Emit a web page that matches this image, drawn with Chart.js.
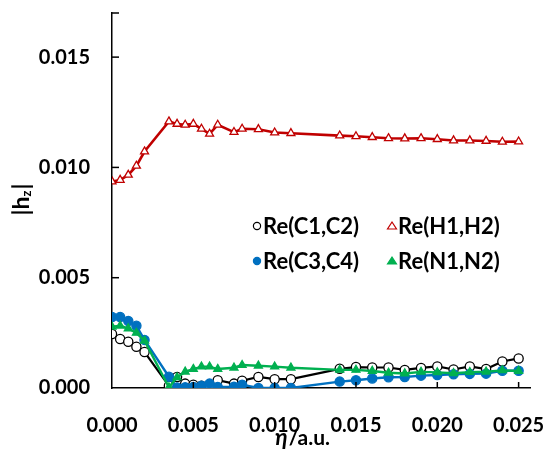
<!DOCTYPE html>
<html><head><meta charset="utf-8">
<script src="https://cdn.jsdelivr.net/npm/chart.js@4"></script>
<style>html,body{margin:0;padding:0;background:#fff}#wrap{width:547px;height:455px;position:relative}</style>
</head><body><div id="wrap"><canvas id="c" width="547" height="455"></canvas></div>
<script>
const etaValues = [0,0.0005,0.001,0.0015,0.002,0.0035,0.004,0.0045,0.005,0.0055,0.006,0.0065,0.0075,0.008,0.009,0.010,0.011,0.014,0.015,0.016,0.017,0.018,0.019,0.020,0.021,0.022,0.023,0.024,0.025];
const reC1C2 = [0.00245,0.00222,0.0021,0.00187,0.00163,0.0001,0.0005,0.0002,0.00015,0.0001,0.00005,0.00035,0.0002,0.00033,0.0005,0.0004,0.0004,0.00087,0.00095,0.00093,0.00093,0.00082,0.00091,0.00098,0.00084,0.00098,0.00086,0.0012,0.00134];
const reH1H2 = [0.00936,0.00943,0.00966,0.01007,0.01072,0.01208,0.01197,0.01193,0.01197,0.01175,0.01152,0.01193,0.0116,0.01175,0.01173,0.01158,0.01155,0.01144,0.01141,0.01137,0.01132,0.01131,0.01132,0.01128,0.01122,0.01122,0.0112,0.01116,0.01117];
const reC3C4 = [0.00322,0.00322,0.00304,0.00282,0.00218,0.00051,0.00002,0.00003,0.00005,0.0001,0.0002,0.00005,0.00006,0.00015,0.0,0.0,0.0,0.00029,0.00035,0.00043,0.00049,0.0005,0.00056,0.00059,0.00062,0.00064,0.00065,0.00078,0.00078];
const reN1N2 = [0.00278,0.00282,0.0027,0.0025,0.00214,0.00003,0.00048,0.00074,0.00086,0.00097,0.00097,0.00086,0.00092,0.00104,0.00101,0.00097,0.00092,0.00082,0.00082,0.00077,0.00069,0.00066,0.00073,0.00071,0.00067,0.00072,0.00074,0.0008,0.00077];
const seriesLabels = ['Re(C1,C2)','Re(H1,H2)','Re(C3,C4)','Re(N1,N2)'];
const xTickValues = [0,0.005,0.010,0.015,0.020,0.025];
const yTickValues = [0,0.005,0.010,0.015];

const FONT = 'Lato, "Open Sans", sans-serif';
const pts = arr => arr.map((v,i)=>({x:etaValues[i], y:v}));

const styles = [
  {color:'#000000', fill:'#ffffff', shape:'circle', order:4, width:2.2},
  {color:'#C00000', fill:'#ffffff', shape:'triangle', order:3, width:2.6},
  {color:'#0070C0', fill:'#0070C0', shape:'circle', order:2, width:2.4},
  {color:'#00B050', fill:'#00B050', shape:'triangle', order:1, width:2.4}
];
const seriesData = [reC1C2, reH1H2, reC3C4, reN1N2];

const datasets = seriesData.map((d,i)=>({
  label: seriesLabels[i],
  data: pts(d),
  showLine: true,
  borderColor: styles[i].color,
  backgroundColor: styles[i].fill,
  pointBorderColor: styles[i].color,
  pointBackgroundColor: styles[i].fill,
  pointStyle: styles[i].shape,
  pointRadius: 4.6,
  pointBorderWidth: 1.3,
  borderWidth: styles[i].width,
  tension: 0,
  order: styles[i].order
}));

const extras = {
  id:'extras',
  afterDraw(chart){
    const ctx = chart.ctx, a = chart.chartArea;
    const xs = chart.scales.x, ys = chart.scales.y;
    ctx.save();
    ctx.strokeStyle='#000'; ctx.lineWidth=1.5;
    yTickValues.forEach(v=>{ if(v===0) return; const p=ys.getPixelForValue(v); ctx.beginPath(); ctx.moveTo(a.left,p); ctx.lineTo(a.left+7,p); ctx.stroke(); });
    ctx.beginPath(); ctx.moveTo(a.left,a.top); ctx.lineTo(a.left+7,a.top); ctx.stroke();
    xTickValues.forEach(v=>{ if(v===0) return; const p=xs.getPixelForValue(v); ctx.beginPath(); ctx.moveTo(p,a.bottom); ctx.lineTo(p,a.bottom-6); ctx.stroke(); });
    // legend
    const cols=[257,392], rows=[226,261];
    ctx.font='bold 22px '+FONT; ctx.textBaseline='middle'; ctx.textAlign='left';
    [0,1,2,3].forEach((si,k)=>{
      const cx=cols[k%2], cy=rows[Math.floor(k/2)];
      const st=styles[si];
      ctx.lineWidth=1.2; ctx.strokeStyle=st.color; ctx.fillStyle=st.fill;
      ctx.beginPath();
      if(st.shape==='circle'){ ctx.arc(cx,cy,3.6,0,Math.PI*2); }
      else { ctx.moveTo(cx,cy-4); ctx.lineTo(cx+4.5,cy+3); ctx.lineTo(cx-4.5,cy+3); ctx.closePath(); }
      ctx.fill(); ctx.stroke();
      ctx.fillStyle='#000';
      ctx.fillText(seriesLabels[si], cx+6, cy+1);
    });
    // x title
    ctx.textBaseline='middle';
    const eta='η', rest='/a.u.';
    ctx.font='italic bold 23px '+FONT; const w1=ctx.measureText(eta).width;
    ctx.font='bold 21px '+FONT; const w2=ctx.measureText(rest).width;
    const tx=302-(w1+w2)/2, ty=438;
    ctx.font='italic bold 23px '+FONT; ctx.fillText(eta,tx,ty);
    ctx.font='bold 21px '+FONT; ctx.fillText(rest,tx+w1+1,ty);
    // y title |hz|
    ctx.translate(22,200); ctx.rotate(-Math.PI/2);
    ctx.font='bold 13px '+FONT; const ws=ctx.measureText('z').width;
    ctx.font='bold 23px '+FONT;
    const wa=ctx.measureText('|h').width, wc=ctx.measureText('|').width;
    const sx=-(wa+ws+wc)/2;
    ctx.fillText('|h',sx,0);
    ctx.font='bold 13px '+FONT; ctx.fillText('z',sx+wa,5);
    ctx.font='bold 23px '+FONT; ctx.fillText('|',sx+wa+ws+1,0);
    ctx.restore();
  }
};

new Chart(document.getElementById('c'), {
  type:'scatter',
  data:{datasets},
  options:{
    responsive:false, animation:false,
    layout:{padding:{top:13,right:17,left:0,bottom:0}},
    plugins:{legend:{display:false}, tooltip:{enabled:false}},
    scales:{
      x:{type:'linear', min:0, max:0.0257,
        afterBuildTicks(s){ s.ticks = xTickValues.map(v=>({value:v})); },
        afterFit(s){ s.height=67; s.paddingLeft=0; s.paddingRight=0; },
        grid:{display:false, drawTicks:false},
        border:{display:true, color:'#000', width:1.5},
        ticks:{padding:26, color:'#000', font:{family:FONT, size:20, weight:'bold'}, maxRotation:0, callback:v=>v.toFixed(3)}
      },
      y:{type:'linear', min:0, max:0.017,
        afterBuildTicks(s){ s.ticks = yTickValues.map(v=>({value:v})); },
        afterFit(s){ s.width=112; s.paddingTop=0; s.paddingBottom=0; },
        grid:{display:false, drawTicks:false},
        border:{display:true, color:'#000', width:1.5},
        ticks:{padding:22, color:'#000', font:{family:FONT, size:20, weight:'bold'}, callback:v=>v.toFixed(3)}
      }
    }
  },
  plugins:[extras]
});
</script></body></html>
